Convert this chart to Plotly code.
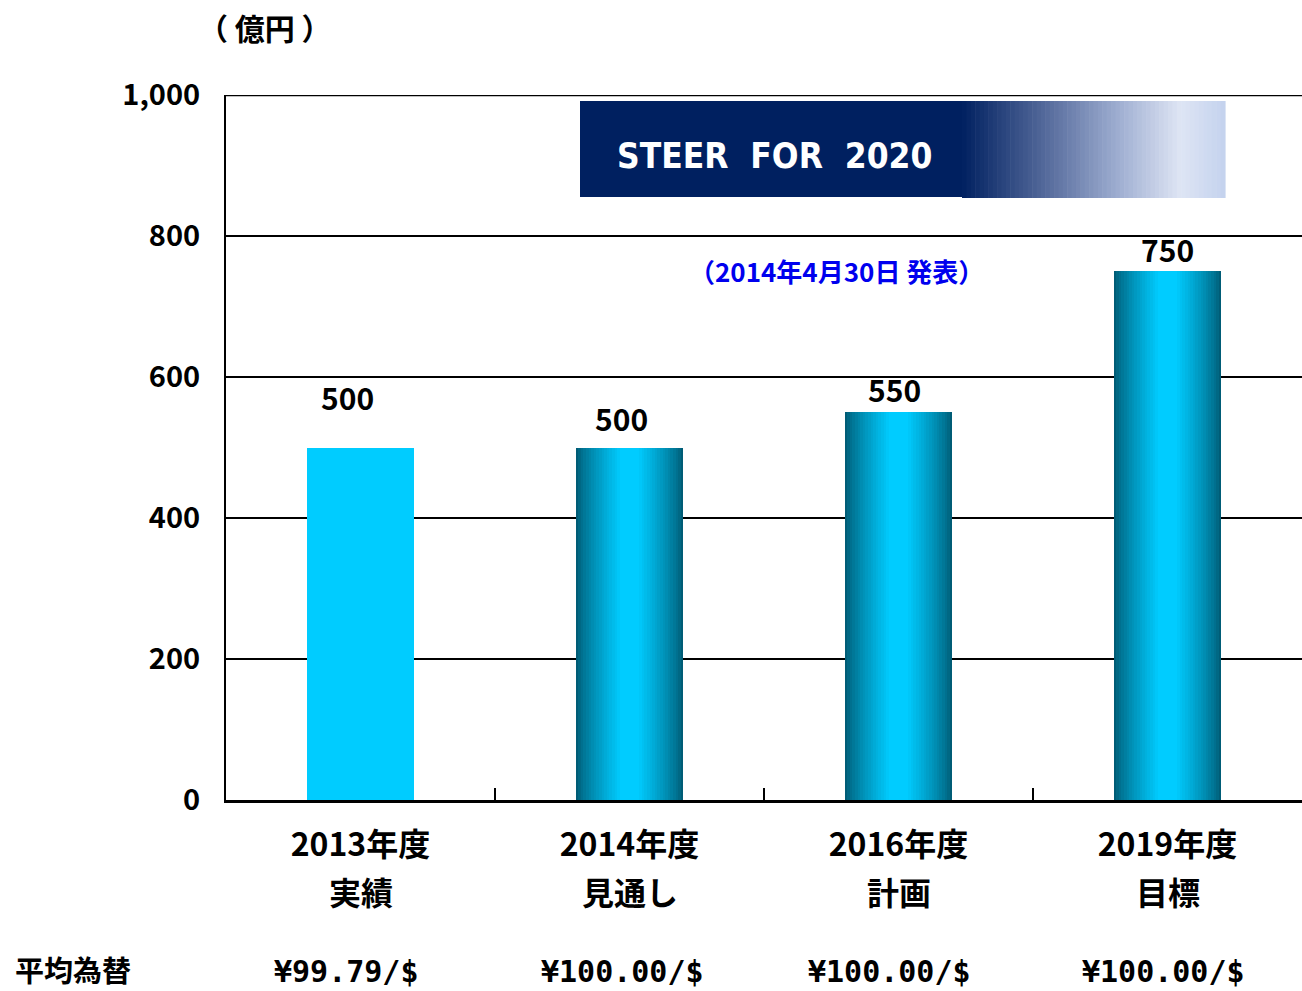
import plotly.graph_objects as go

# ---- data ----
categories = ["2013年度", "2014年度", "2016年度", "2019年度"]
category_notes = ["実績", "見通し", "計画", "目標"]
values = [500, 500, 550, 750]
value_labels = ["500", "500", "550", "750"]
fx_labels = ["¥99.79/$", "¥100.00/$", "¥100.00/$", "¥100.00/$"]
gradient_flags = [False, True, True, True]
y_ticks = [0, 200, 400, 600, 800, 1000]
y_tick_text = ["0", "200", "400", "600", "800", "1,000"]

# ---- styles ----
FONT = "Noto Sans CJK JP"
MONO = "DejaVu Sans Mono, Liberation Mono, monospace"
W, H = 1302, 991
L, R, T, B = 226, 0, 95, 191
PW, PH = W - L - R, H - T - B
BAR_W = 0.4
DARK = (0, 92, 118)
CYAN = (0, 204, 255)


def mix(c1, c2, t):
    return "rgb(%d,%d,%d)" % tuple(round(a + (b - a) * t) for a, b in zip(c1, c2))


def px_x(p):
    return (p - L) / PW


def px_y(p):
    return (T + PH - p) / PH


fig = go.Figure()

N = 18
for i in range(N):
    t = i / (N - 1)
    w = BAR_W * (1 - 0.82 * t)
    tt = t ** 0.8
    colors = [mix(DARK, CYAN, tt) if g else "rgb(0,204,255)" for g in gradient_flags]
    fig.add_trace(go.Bar(
        x=categories, y=values, width=w,
        marker=dict(color=colors, line=dict(width=0)),
        showlegend=False, hoverinfo="skip" if i else "y",
    ))

shapes = []
# top gridline (at the upper end of the axis range)
shapes.append(dict(type="line", xref="paper", yref="y", x0=0, x1=1,
                   y0=y_ticks[-1], y1=y_ticks[-1], line=dict(color="black", width=2.5)))
# banner navy part
shapes.append(dict(type="rect", xref="paper", yref="paper",
                   x0=px_x(580), x1=px_x(963), y0=px_y(197), y1=px_y(101),
                   fillcolor="#002060", line=dict(width=0), layer="above"))
# banner gradient part
stops = [(0.0, (0, 32, 96)), (0.3, (80, 102, 152)), (0.6, (160, 175, 210)),
         (0.83, (222, 229, 244)), (1.0, (196, 210, 238))]


def grad(t):
    for (t0, c0), (t1, c1) in zip(stops[:-1], stops[1:]):
        if t0 <= t <= t1:
            return mix(c0, c1, (t - t0) / (t1 - t0))
    return mix(stops[-1][1], stops[-1][1], 0)


gx0, gx1 = 962, 1225
M = 60
for k in range(M):
    a = gx0 + (gx1 - gx0) * k / M
    b = gx0 + (gx1 - gx0) * (k + 1) / M + 0.6
    shapes.append(dict(type="rect", xref="paper", yref="paper",
                       x0=px_x(a), x1=px_x(b), y0=px_y(198), y1=px_y(101),
                       fillcolor=grad((k + 0.5) / M), line=dict(width=0), layer="above"))

annotations = []
annotations.append(dict(text="STEER  FOR  2020", xref="paper", yref="paper",
                        x=px_x(615), y=px_y(156), xanchor="left", yanchor="middle",
                        showarrow=False,
                        font=dict(family="Liberation Sans Narrow, DejaVu Sans Condensed, Noto Sans",
                                  size=35, color="white", weight=700)))
annotations.append(dict(text="（2014年4月30日 発表）", xref="paper", yref="paper",
                        x=px_x(836), y=px_y(270), xanchor="center", yanchor="middle",
                        showarrow=False, font=dict(family=FONT, size=26, color="#0000EE", weight=700)))
annotations.append(dict(text="（ 億円 ）", xref="paper", yref="paper",
                        x=px_x(265), y=px_y(27), xanchor="center", yanchor="middle",
                        showarrow=False, font=dict(family=FONT, size=30, color="black", weight=700)))
annotations.append(dict(text="平均為替", xref="paper", yref="paper",
                        x=px_x(13), y=px_y(969), xanchor="left", yanchor="middle",
                        showarrow=False, font=dict(family=FONT, size=29, color="black", weight=700)))

# second line of the category labels
for c, note in zip(categories, category_notes):
    annotations.append(dict(text=note, x=c, xref="x", yref="paper", y=px_y(891),
                            xanchor="center", yanchor="middle", showarrow=False,
                            font=dict(family=FONT, size=32, color="black", weight=700)))

label_shift_x = [-13, -8, -4, 0]
label_shift_y = [51, 30, 23, 22]
for c, v, lab, sx, sy in zip(categories, values, value_labels, label_shift_x, label_shift_y):
    annotations.append(dict(text=lab, x=c, y=v, xref="x", yref="y",
                            xanchor="center", yanchor="middle", xshift=sx, yshift=sy,
                            showarrow=False, font=dict(family=FONT, size=30, color="black", weight=700)))

fx_shift_x = [-14, -7, -9, -4]
for c, f, sx in zip(categories, fx_labels, fx_shift_x):
    annotations.append(dict(text=f, x=c, xref="x", yref="paper", y=px_y(971),
                            xanchor="center", yanchor="middle", xshift=sx,
                            showarrow=False, font=dict(family=MONO, size=30, color="black", weight=700)))

fig.update_layout(
    width=W, height=H,
    margin=dict(l=L, r=R, t=T, b=B, pad=0),
    paper_bgcolor="white", plot_bgcolor="white",
    barmode="overlay", bargap=0,
    shapes=shapes, annotations=annotations,
    showlegend=False,
    font=dict(family=FONT, color="black"),
)
fig.update_xaxes(
    range=[-0.5, 3.5], showgrid=False,
    showline=True, linecolor="black", linewidth=3,
    ticks="inside", tickson="boundaries", ticklen=12, tickwidth=2, tickcolor="black",
    tickfont=dict(family=FONT, size=32, color="black", weight=700),
    ticklabelstandoff=15,
)
fig.update_yaxes(
    range=[0, 1000], tickvals=y_ticks, ticktext=y_tick_text,
    showgrid=True, gridcolor="black", gridwidth=2,
    showline=True, linecolor="black", linewidth=2,
    zeroline=False, ticks="",
    tickfont=dict(family=FONT, size=29, color="black", weight=700),
    ticklabelstandoff=18,
)

fig.write_html("out.html")
